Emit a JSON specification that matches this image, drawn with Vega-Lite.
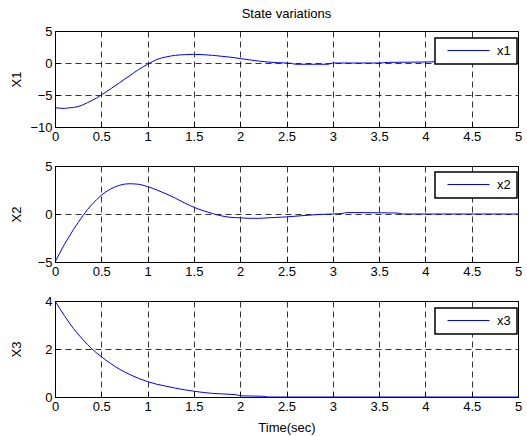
{
  "$schema": "https://vega.github.io/schema/vega-lite/v6.json",
  "padding": {"left": 9, "top": 7, "right": 5, "bottom": 5},
  "background": "white",
  "bounds": "flush",
  "spacing": 39,
  "config": {
    "font": "Liberation Sans",
    "view": {"stroke": "#000", "strokeWidth": 1},
    "axis": {
      "grid": true, "gridColor": "#000", "gridDash": [6, 4], "gridWidth": 0.8, "gridOpacity": 1,
      "domain": false, "ticks": true, "tickSize": -5, "tickColor": "#000", "tickWidth": 1,
      "labelFontSize": 13, "labelColor": "#000", "labelPadding": 8,
      "labelFlush": false, "labelOverlap": false, "labelBound": false,
      "titleFontSize": 13, "titleFontWeight": "normal", "titleColor": "#000"
    },
    "axisY": {"minExtent": 22, "maxExtent": 22, "titlePadding": 10},
    "legend": {
      "symbolType": "M0,0H12", "symbolSize": 49, "symbolStrokeWidth": 1, "symbolStrokeColor": "#0000ff",
      "labelOffset": 43, "labelFontSize": 13, "labelColor": "#000",
      "padding": 6, "strokeColor": "#000", "fillColor": "#fff", "strokeWidth": 1.5, "cornerRadius": 0
    }
  },
  "data": {"values": [
    {"series": "x1", "t": 0, "v": -7.0},
    {"series": "x1", "t": 0.05, "v": -7.05},
    {"series": "x1", "t": 0.1, "v": -7.1},
    {"series": "x1", "t": 0.15, "v": -7.0},
    {"series": "x1", "t": 0.2, "v": -6.95},
    {"series": "x1", "t": 0.25, "v": -6.8},
    {"series": "x1", "t": 0.3, "v": -6.55},
    {"series": "x1", "t": 0.35, "v": -6.2},
    {"series": "x1", "t": 0.4, "v": -5.85},
    {"series": "x1", "t": 0.45, "v": -5.45},
    {"series": "x1", "t": 0.5, "v": -5.0},
    {"series": "x1", "t": 0.6, "v": -4.05},
    {"series": "x1", "t": 0.7, "v": -3.05},
    {"series": "x1", "t": 0.8, "v": -2.05},
    {"series": "x1", "t": 0.9, "v": -1.05},
    {"series": "x1", "t": 1.0, "v": -0.2},
    {"series": "x1", "t": 1.05, "v": 0.2},
    {"series": "x1", "t": 1.1, "v": 0.55},
    {"series": "x1", "t": 1.2, "v": 0.95},
    {"series": "x1", "t": 1.3, "v": 1.2},
    {"series": "x1", "t": 1.4, "v": 1.3},
    {"series": "x1", "t": 1.5, "v": 1.35},
    {"series": "x1", "t": 1.6, "v": 1.3},
    {"series": "x1", "t": 1.7, "v": 1.2},
    {"series": "x1", "t": 1.8, "v": 1.05},
    {"series": "x1", "t": 1.9, "v": 0.9},
    {"series": "x1", "t": 2.0, "v": 0.7},
    {"series": "x1", "t": 2.1, "v": 0.5},
    {"series": "x1", "t": 2.2, "v": 0.3},
    {"series": "x1", "t": 2.3, "v": 0.15},
    {"series": "x1", "t": 2.4, "v": 0.05},
    {"series": "x1", "t": 2.5, "v": 0.0},
    {"series": "x1", "t": 2.55, "v": -0.05},
    {"series": "x1", "t": 2.6, "v": -0.2},
    {"series": "x1", "t": 2.8, "v": -0.2},
    {"series": "x1", "t": 2.95, "v": -0.2},
    {"series": "x1", "t": 3.0, "v": 0.0},
    {"series": "x1", "t": 3.5, "v": 0.0},
    {"series": "x1", "t": 3.6, "v": 0.1},
    {"series": "x1", "t": 4.0, "v": 0.15},
    {"series": "x1", "t": 4.1, "v": 0.2},
    {"series": "x1", "t": 5.0, "v": 0.1},
    {"series": "x2", "t": 0, "v": -5.0},
    {"series": "x2", "t": 0.05, "v": -4.1},
    {"series": "x2", "t": 0.1, "v": -3.2},
    {"series": "x2", "t": 0.15, "v": -2.4},
    {"series": "x2", "t": 0.2, "v": -1.6},
    {"series": "x2", "t": 0.25, "v": -0.9},
    {"series": "x2", "t": 0.3, "v": -0.2},
    {"series": "x2", "t": 0.35, "v": 0.45},
    {"series": "x2", "t": 0.4, "v": 1.0},
    {"series": "x2", "t": 0.5, "v": 1.95},
    {"series": "x2", "t": 0.6, "v": 2.6},
    {"series": "x2", "t": 0.7, "v": 3.0},
    {"series": "x2", "t": 0.8, "v": 3.15},
    {"series": "x2", "t": 0.9, "v": 3.1},
    {"series": "x2", "t": 1.0, "v": 2.85},
    {"series": "x2", "t": 1.1, "v": 2.5},
    {"series": "x2", "t": 1.2, "v": 2.1},
    {"series": "x2", "t": 1.3, "v": 1.65},
    {"series": "x2", "t": 1.4, "v": 1.15},
    {"series": "x2", "t": 1.5, "v": 0.7},
    {"series": "x2", "t": 1.6, "v": 0.35},
    {"series": "x2", "t": 1.7, "v": 0.05},
    {"series": "x2", "t": 1.8, "v": -0.2},
    {"series": "x2", "t": 1.9, "v": -0.35},
    {"series": "x2", "t": 2.0, "v": -0.4},
    {"series": "x2", "t": 2.1, "v": -0.45},
    {"series": "x2", "t": 2.2, "v": -0.45},
    {"series": "x2", "t": 2.3, "v": -0.4},
    {"series": "x2", "t": 2.5, "v": -0.3},
    {"series": "x2", "t": 2.7, "v": -0.15},
    {"series": "x2", "t": 2.85, "v": -0.05},
    {"series": "x2", "t": 3.0, "v": 0.0},
    {"series": "x2", "t": 3.1, "v": 0.05},
    {"series": "x2", "t": 3.15, "v": 0.15},
    {"series": "x2", "t": 3.7, "v": 0.1},
    {"series": "x2", "t": 3.75, "v": 0.0},
    {"series": "x2", "t": 5.0, "v": 0.0},
    {"series": "x3", "t": 0, "v": 4.0},
    {"series": "x3", "t": 0.1, "v": 3.4},
    {"series": "x3", "t": 0.2, "v": 2.85},
    {"series": "x3", "t": 0.3, "v": 2.4},
    {"series": "x3", "t": 0.4, "v": 2.0},
    {"series": "x3", "t": 0.5, "v": 1.68},
    {"series": "x3", "t": 0.6, "v": 1.4},
    {"series": "x3", "t": 0.7, "v": 1.15},
    {"series": "x3", "t": 0.8, "v": 0.95},
    {"series": "x3", "t": 0.9, "v": 0.78},
    {"series": "x3", "t": 1.0, "v": 0.64},
    {"series": "x3", "t": 1.1, "v": 0.53},
    {"series": "x3", "t": 1.2, "v": 0.45},
    {"series": "x3", "t": 1.3, "v": 0.37},
    {"series": "x3", "t": 1.4, "v": 0.3},
    {"series": "x3", "t": 1.5, "v": 0.24},
    {"series": "x3", "t": 1.6, "v": 0.19},
    {"series": "x3", "t": 1.7, "v": 0.15},
    {"series": "x3", "t": 1.8, "v": 0.13},
    {"series": "x3", "t": 1.9, "v": 0.11},
    {"series": "x3", "t": 1.95, "v": 0.1},
    {"series": "x3", "t": 2.0, "v": 0.05},
    {"series": "x3", "t": 2.25, "v": 0.03},
    {"series": "x3", "t": 2.3, "v": 0.0},
    {"series": "x3", "t": 5.0, "v": 0.0}
  ]},
  "resolve": {"scale": {"color": "independent"}, "legend": {"color": "independent"}},
  "vconcat": [
    {
      "width": 463, "height": 96,
      "title": {"text": "State variations", "fontSize": 13, "fontWeight": "normal", "color": "#000", "offset": 4},
      "transform": [{"filter": "datum.series == 'x1'"}],
      "mark": {"type": "line", "strokeWidth": 1, "interpolate": "monotone"},
      "encoding": {
        "x": {"field": "t", "type": "quantitative", "scale": {"domain": [0, 5], "nice": false},
              "axis": {"values": [0, 0.5, 1, 1.5, 2, 2.5, 3, 3.5, 4, 4.5, 5], "format": "~r", "title": null}},
        "y": {"field": "v", "type": "quantitative", "scale": {"domain": [-10, 5], "nice": false, "zero": false},
              "axis": {"values": [-10, -5, 0, 5], "format": "d", "title": "X1"}},
        "color": {"field": "series", "type": "nominal", "scale": {"range": ["#0000ff"]},
                  "legend": {"title": null, "orient": "none", "legendX": 380, "legendY": 7, "symbolStrokeColor": "#0000ff"}}
      }
    },
    {
      "width": 463, "height": 96,
      "transform": [{"filter": "datum.series == 'x2'"}],
      "mark": {"type": "line", "strokeWidth": 1, "interpolate": "monotone"},
      "encoding": {
        "x": {"field": "t", "type": "quantitative", "scale": {"domain": [0, 5], "nice": false},
              "axis": {"values": [0, 0.5, 1, 1.5, 2, 2.5, 3, 3.5, 4, 4.5, 5], "format": "~r", "title": null}},
        "y": {"field": "v", "type": "quantitative", "scale": {"domain": [-5, 5], "nice": false, "zero": false},
              "axis": {"values": [-5, 0, 5], "format": "d", "title": "X2"}},
        "color": {"field": "series", "type": "nominal", "scale": {"range": ["#0000ff"]},
                  "legend": {"title": null, "orient": "none", "legendX": 380, "legendY": 6, "symbolStrokeColor": "#0000ff"}}
      }
    },
    {
      "width": 463, "height": 96,
      "transform": [{"filter": "datum.series == 'x3'"}],
      "mark": {"type": "line", "strokeWidth": 1, "interpolate": "monotone"},
      "encoding": {
        "x": {"field": "t", "type": "quantitative", "scale": {"domain": [0, 5], "nice": false},
              "axis": {"values": [0, 0.5, 1, 1.5, 2, 2.5, 3, 3.5, 4, 4.5, 5], "format": "~r", "title": "Time(sec)", "titlePadding": 8}},
        "y": {"field": "v", "type": "quantitative", "scale": {"domain": [0, 4], "nice": false, "zero": false},
              "axis": {"values": [0, 2, 4], "format": "d", "title": "X3"}},
        "color": {"field": "series", "type": "nominal", "scale": {"range": ["#0000ff"]},
                  "legend": {"title": null, "orient": "none", "legendX": 380, "legendY": 7, "symbolStrokeColor": "#0000ff"}}
      }
    }
  ]
}
